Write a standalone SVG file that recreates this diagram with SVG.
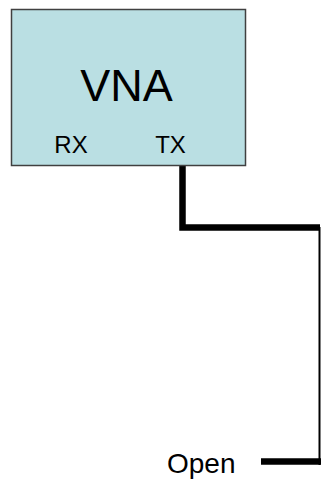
<svg xmlns="http://www.w3.org/2000/svg" width="321" height="484" viewBox="0 0 321 484">
<style>
.lbl{font-family:"Liberation Sans",Arial,sans-serif;fill:#000}
.thick{fill:none;stroke:#000;stroke-width:6.5;stroke-linejoin:miter}
.thin{fill:none;stroke:#000;stroke-width:2}
</style>
<rect width="321" height="484" fill="#fff"/>
<g id="connectors">
<polyline class="thick" points="182.5,166 182.5,227.5 320,227.5"/>
<line class="thin" x1="319.5" y1="227" x2="319.5" y2="465"/>
<line class="thick" x1="261" y1="461.5" x2="321" y2="461.5"/>
</g>
<g id="vna">
<rect x="11.5" y="9.5" width="234" height="156" fill="#BADFE3" stroke="#404040" stroke-width="1.5"/>
<text class="lbl" x="126.5" y="101" font-size="45" text-anchor="middle">VNA</text>
<text class="lbl" x="71" y="153" font-size="24" text-anchor="middle" fill="#222">RX</text>
<text class="lbl" x="170.5" y="153" font-size="24" text-anchor="middle" fill="#222">TX</text>
</g>
<g id="open">
<text class="lbl" x="167" y="473" font-size="28" fill="#222">Open</text>
</g>
</svg>
